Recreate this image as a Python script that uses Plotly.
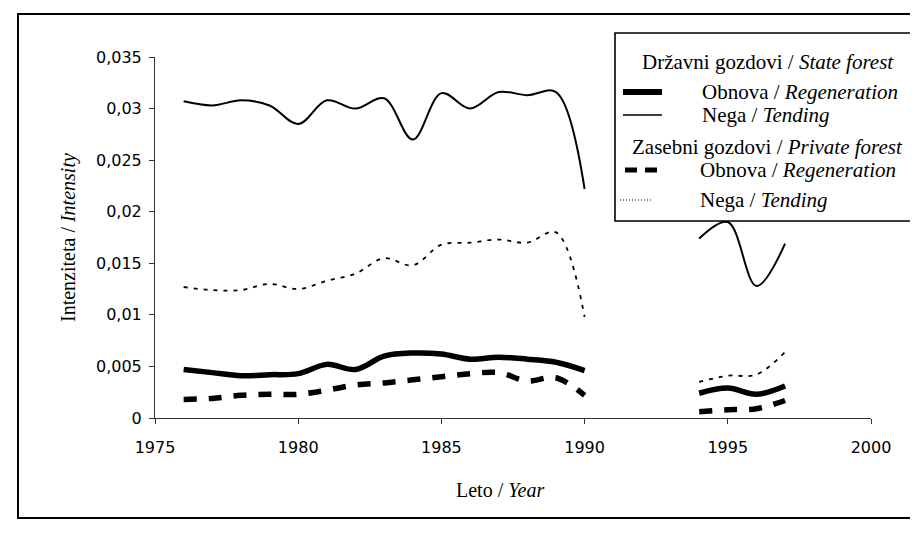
import plotly.graph_objects as go

# ---------------- data ----------------
years = list(range(1976, 1998))
# None marks the missing years 1991-1993
state_regeneration = [0.0047, 0.0044, 0.0041, 0.0042, 0.0043, 0.0052, 0.0047, 0.0060, 0.0063, 0.0062,
                      0.0057, 0.0059, 0.0057, 0.0054, 0.0046, None, None, None,
                      0.0024, 0.0029, 0.0023, 0.0031]
state_tending = [0.0307, 0.0303, 0.0308, 0.0303, 0.0285, 0.0308, 0.0300, 0.0310, 0.0270, 0.0315,
                 0.0300, 0.0316, 0.0313, 0.0316, 0.0222, None, None, None,
                 0.0174, 0.0190, 0.0128, 0.0169]
private_regeneration = [0.0018, 0.0019, 0.0022, 0.0023, 0.0023, 0.0027, 0.0032, 0.0034, 0.0037, 0.0040,
                        0.0043, 0.0044, 0.0036, 0.0039, 0.0022, None, None, None,
                        0.0006, 0.0008, 0.0009, 0.0017]
private_tending = [0.0127, 0.0124, 0.0124, 0.0130, 0.0125, 0.0133, 0.0140, 0.0155, 0.0148, 0.0168,
                   0.0170, 0.0173, 0.0170, 0.0180, 0.0098, None, None, None,
                   0.0035, 0.0041, 0.0042, 0.0064]

x_tickvals = [1975, 1980, 1985, 1990, 1995, 2000]
x_ticktext = ["1975", "1980", "1985", "1990", "1995", "2000"]
y_tickvals = [0, 0.005, 0.01, 0.015, 0.02, 0.025, 0.03, 0.035]
y_ticktext = ["0", "0,005", "0,01", "0,015", "0,02", "0,025", "0,03", "0,035"]

# ---------------- geometry ----------------
# the page body has an 8px margin, so the figure is shrunk and shifted by it
OFF = 8
W, H = 918 - OFF, 533 - OFF
PLOT_X0, PLOT_X1, PLOT_Y0, PLOT_Y1 = 155, 871, 57, 418   # window pixels
L, R = PLOT_X0 - OFF, W - (PLOT_X1 - OFF)
T, B = PLOT_Y0 - OFF, H - (PLOT_Y1 - OFF)
PW, PH = W - L - R, H - T - B


def px(x):
    return (x - OFF - L) / PW


def py(y):
    return (H - B - (y - OFF)) / PH


SERIF = "Liberation Serif, Times New Roman, serif"
SANS = "DejaVu Sans, Arial, sans-serif"

fig = go.Figure()


def add(y, width, dash):
    fig.add_trace(go.Scatter(
        x=years, y=y, mode="lines", connectgaps=False,
        line=dict(color="black", width=width, dash=dash, shape="spline", smoothing=1.0),
        showlegend=False, hoverinfo="skip"))


add(state_tending, 2, "solid")
add(private_tending, 1.8, "4px,6px")
add(state_regeneration, 5.5, "solid")
add(private_regeneration, 5.5, "13px,12px")

shapes = []
annotations = []

# outer frame
shapes.append(dict(type="rect", xref="paper", yref="paper",
                   x0=px(18), x1=px(915), y0=py(518), y1=py(14),
                   line=dict(color="black", width=2), fillcolor="rgba(0,0,0,0)"))

# legend box
shapes.append(dict(type="rect", xref="paper", yref="paper",
                   x0=px(615), x1=px(912), y0=py(221), y1=py(33),
                   line=dict(color="black", width=1.6), fillcolor="white", layer="above"))

# legend samples
legend_samples = [
    (92, 623, 662, 6, "solid"),
    (115, 623, 662, 1.5, "solid"),
    (170, 625, 661, 5, "12px,8px"),
    (200, 620, 653, 1, "1px,2px"),
]
for yy, xa, xb, w, d in legend_samples:
    shapes.append(dict(type="line", xref="paper", yref="paper",
                       x0=px(xa), x1=px(xb), y0=py(yy), y1=py(yy),
                       line=dict(color="black", width=w, dash=d), layer="above"))

legend_texts = [
    (640, 62, "Državni gozdovi / <i>State forest</i>"),
    (700, 92, "Obnova / <i>Regeneration</i>"),
    (700, 115, "Nega / <i>Tending</i>"),
    (630, 147, "Zasebni gozdovi / <i>Private forest</i>"),
    (698, 170, "Obnova / <i>Regeneration</i>"),
    (698, 200, "Nega / <i>Tending</i>"),
]
for xx, yy, t in legend_texts:
    annotations.append(dict(xref="paper", yref="paper", x=px(xx), y=py(yy),
                            xanchor="left", yanchor="middle", text=t, showarrow=False,
                            font=dict(family=SERIF, size=21, color="black")))

# axis titles
annotations.append(dict(xref="paper", yref="paper", x=px(68), y=py(238),
                        xanchor="center", yanchor="middle", textangle=-90,
                        text="Intenziteta / <i>Intensity</i>", showarrow=False,
                        font=dict(family=SERIF, size=20, color="black")))
annotations.append(dict(xref="paper", yref="paper", x=px(500), y=py(490),
                        xanchor="center", yanchor="middle",
                        text="Leto / <i>Year</i>", showarrow=False,
                        font=dict(family=SERIF, size=20, color="black")))

fig.update_layout(
    width=W, height=H,
    margin=dict(l=L, r=R, t=T, b=B),
    paper_bgcolor="white", plot_bgcolor="white",
    shapes=shapes, annotations=annotations,
    showlegend=False,
    xaxis=dict(range=[1975, 2000], tickvals=x_tickvals, ticktext=x_ticktext,
               showgrid=False, zeroline=False, showline=True, linecolor="#333", linewidth=1,
               ticks="outside", ticklen=5, tickcolor="#333", ticklabelstandoff=10,
               tickfont=dict(family=SANS, size=16, color="black")),
    yaxis=dict(range=[0, 0.035], tickvals=y_tickvals, ticktext=y_ticktext,
               showgrid=False, zeroline=False, showline=True, linecolor="#333", linewidth=1,
               ticks="outside", ticklen=5, tickcolor="#333", ticklabelstandoff=4,
               tickfont=dict(family=SANS, size=16, color="black")),
)

fig.write_html("out.html")
